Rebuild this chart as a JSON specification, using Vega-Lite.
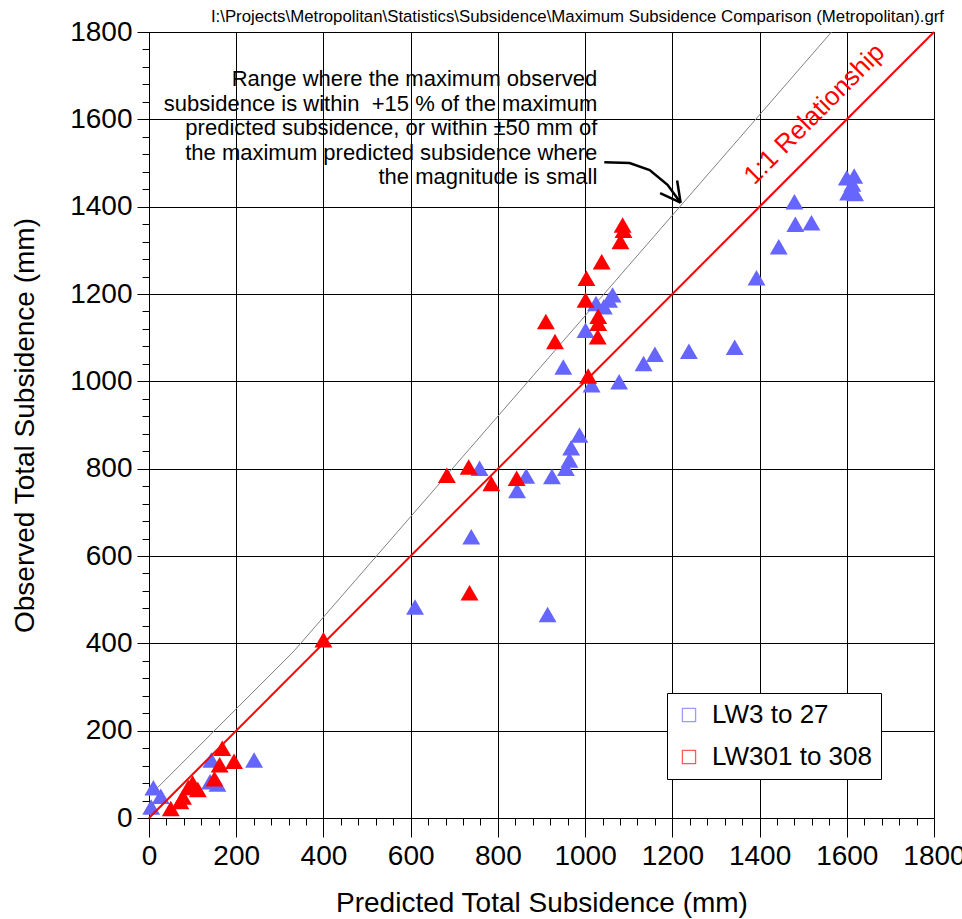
{
  "$schema": "https://vega.github.io/schema/vega-lite/v6.json",
  "width": 785,
  "height": 786,
  "autosize": {"type": "none"},
  "padding": {"left": 149, "top": 32, "right": 28, "bottom": 101},
  "background": "white",
  "config": {
    "font": "Liberation Sans",
    "view": {"stroke": "black", "strokeWidth": 1},
    "axis": {
      "labelFont": "Liberation Sans",
      "titleFont": "Liberation Sans",
      "labelColor": "black",
      "titleColor": "black",
      "labelFontSize": 28,
      "titleFontSize": 28,
      "titleFontWeight": "normal",
      "labelOverlap": false,
      "labelFlush": false,
      "gridColor": "black",
      "gridOpacity": 1,
      "gridWidth": 1,
      "domainColor": "black",
      "tickColor": "black",
      "tickWidth": 1
    }
  },
  "title": {
    "text": "I:\\Projects\\Metropolitan\\Statistics\\Subsidence\\Maximum Subsidence Comparison (Metropolitan).grf",
    "anchor": "end",
    "frame": "group",
    "fontSize": 16.8,
    "fontWeight": "normal",
    "font": "Liberation Sans",
    "color": "black",
    "offset": -8,
    "dx": 10
  },
  "datasets": {
    "points": [
      {"predicted": 5, "observed": 25, "series": "LW3 to 27"},
      {"predicted": 10, "observed": 69, "series": "LW3 to 27"},
      {"predicted": 27, "observed": 50, "series": "LW3 to 27"},
      {"predicted": 143, "observed": 133, "series": "LW3 to 27"},
      {"predicted": 140, "observed": 83, "series": "LW3 to 27"},
      {"predicted": 157, "observed": 78, "series": "LW3 to 27"},
      {"predicted": 241, "observed": 133, "series": "LW3 to 27"},
      {"predicted": 610, "observed": 483, "series": "LW3 to 27"},
      {"predicted": 739, "observed": 644, "series": "LW3 to 27"},
      {"predicted": 758, "observed": 801, "series": "LW3 to 27"},
      {"predicted": 844, "observed": 750, "series": "LW3 to 27"},
      {"predicted": 865, "observed": 783, "series": "LW3 to 27"},
      {"predicted": 914, "observed": 466, "series": "LW3 to 27"},
      {"predicted": 924, "observed": 782, "series": "LW3 to 27"},
      {"predicted": 956, "observed": 801, "series": "LW3 to 27"},
      {"predicted": 964, "observed": 820, "series": "LW3 to 27"},
      {"predicted": 968, "observed": 848, "series": "LW3 to 27"},
      {"predicted": 987, "observed": 877, "series": "LW3 to 27"},
      {"predicted": 950, "observed": 1033, "series": "LW3 to 27"},
      {"predicted": 1001, "observed": 1117, "series": "LW3 to 27"},
      {"predicted": 1015, "observed": 992, "series": "LW3 to 27"},
      {"predicted": 1025, "observed": 1178, "series": "LW3 to 27"},
      {"predicted": 1043, "observed": 1171, "series": "LW3 to 27"},
      {"predicted": 1055, "observed": 1186, "series": "LW3 to 27"},
      {"predicted": 1063, "observed": 1198, "series": "LW3 to 27"},
      {"predicted": 1078, "observed": 999, "series": "LW3 to 27"},
      {"predicted": 1134, "observed": 1041, "series": "LW3 to 27"},
      {"predicted": 1160, "observed": 1062, "series": "LW3 to 27"},
      {"predicted": 1238, "observed": 1069, "series": "LW3 to 27"},
      {"predicted": 1343, "observed": 1078, "series": "LW3 to 27"},
      {"predicted": 1393, "observed": 1237, "series": "LW3 to 27"},
      {"predicted": 1444, "observed": 1308, "series": "LW3 to 27"},
      {"predicted": 1480, "observed": 1411, "series": "LW3 to 27"},
      {"predicted": 1482, "observed": 1360, "series": "LW3 to 27"},
      {"predicted": 1519, "observed": 1363, "series": "LW3 to 27"},
      {"predicted": 1600, "observed": 1466, "series": "LW3 to 27"},
      {"predicted": 1617, "observed": 1470, "series": "LW3 to 27"},
      {"predicted": 1613, "observed": 1452, "series": "LW3 to 27"},
      {"predicted": 1609, "observed": 1441, "series": "LW3 to 27"},
      {"predicted": 1603, "observed": 1432, "series": "LW3 to 27"},
      {"predicted": 1619, "observed": 1430, "series": "LW3 to 27"},
      {"predicted": 50, "observed": 22, "series": "LW301 to 308"},
      {"predicted": 72, "observed": 38, "series": "LW301 to 308"},
      {"predicted": 78, "observed": 48, "series": "LW301 to 308"},
      {"predicted": 90, "observed": 70, "series": "LW301 to 308"},
      {"predicted": 100, "observed": 80, "series": "LW301 to 308"},
      {"predicted": 112, "observed": 65, "series": "LW301 to 308"},
      {"predicted": 150, "observed": 90, "series": "LW301 to 308"},
      {"predicted": 162, "observed": 122, "series": "LW301 to 308"},
      {"predicted": 168, "observed": 160, "series": "LW301 to 308"},
      {"predicted": 195, "observed": 130, "series": "LW301 to 308"},
      {"predicted": 400, "observed": 408, "series": "LW301 to 308"},
      {"predicted": 683, "observed": 785, "series": "LW301 to 308"},
      {"predicted": 733, "observed": 804, "series": "LW301 to 308"},
      {"predicted": 735, "observed": 516, "series": "LW301 to 308"},
      {"predicted": 785, "observed": 766, "series": "LW301 to 308"},
      {"predicted": 843, "observed": 778, "series": "LW301 to 308"},
      {"predicted": 910, "observed": 1137, "series": "LW301 to 308"},
      {"predicted": 931, "observed": 1091, "series": "LW301 to 308"},
      {"predicted": 1001, "observed": 1186, "series": "LW301 to 308"},
      {"predicted": 1003, "observed": 1236, "series": "LW301 to 308"},
      {"predicted": 1007, "observed": 1012, "series": "LW301 to 308"},
      {"predicted": 1029, "observed": 1102, "series": "LW301 to 308"},
      {"predicted": 1030, "observed": 1133, "series": "LW301 to 308"},
      {"predicted": 1030, "observed": 1149, "series": "LW301 to 308"},
      {"predicted": 1038, "observed": 1274, "series": "LW301 to 308"},
      {"predicted": 1081, "observed": 1320, "series": "LW301 to 308"},
      {"predicted": 1086, "observed": 1358, "series": "LW301 to 308"},
      {"predicted": 1088, "observed": 1346, "series": "LW301 to 308"}
    ],
    "envelope": [
      {"x": 0, "y": 50},
      {"x": 333.3, "y": 383.3},
      {"x": 1565, "y": 1800}
    ],
    "oneToOne": [
      {"x": 0, "y": 0},
      {"x": 1800, "y": 1800}
    ],
    "arrow": [
      {"part": "shaft", "o": 1, "x": 1044, "y": 1502},
      {"part": "shaft", "o": 2, "x": 1102, "y": 1500},
      {"part": "shaft", "o": 3, "x": 1148, "y": 1484},
      {"part": "shaft", "o": 4, "x": 1189, "y": 1450},
      {"part": "shaft", "o": 5, "x": 1219, "y": 1409},
      {"part": "arm1", "o": 1, "x": 1172, "y": 1431},
      {"part": "arm1", "o": 2, "x": 1219, "y": 1409},
      {"part": "arm2", "o": 1, "x": 1211, "y": 1460},
      {"part": "arm2", "o": 2, "x": 1219, "y": 1409}
    ],
    "notes": [
      {"x": 1028, "y": 1715, "text": "Range where the maximum observed\nsubsidence is within\u00a0 +15 % of the maximum\npredicted subsidence, or within ±50 mm of\nthe maximum predicted subsidence where\nthe magnitude is small"}
    ],
    "lineLabel": [
      {"x": 1526, "y": 1612, "text": "1:1 Relationship"}
    ]
  },
  "resolve": {"axis": {"x": "independent", "y": "independent"}},
  "layer": [
    {
      "layer": [
        {
          "data": {"name": "envelope"},
          "mark": {"type": "line", "color": "#808080", "strokeWidth": 1, "clip": true},
          "encoding": {
            "x": {"field": "x", "type": "quantitative", "scale": {"domain": [0, 1800], "nice": false, "zero": false},
              "axis": {"values": [0, 200, 400, 600, 800, 1000, 1200, 1400, 1600, 1800], "format": "d", "grid": true, "tickSize": 19, "labelPadding": 5, "title": "Predicted Total Subsidence (mm)", "titlePadding": 19, "orient": "bottom"}},
            "y": {"field": "y", "type": "quantitative", "scale": {"domain": [0, 1800], "nice": false, "zero": false},
              "axis": {"values": [0, 200, 400, 600, 800, 1000, 1200, 1400, 1600, 1800], "format": "d", "grid": true, "tickSize": 12, "labelPadding": 5, "title": "Observed Total Subsidence (mm)", "titlePadding": 30, "orient": "left"}}
          }
        },
        {
          "data": {"name": "points"},
          "mark": {"type": "point", "shape": "triangle-up", "filled": true, "opacity": 1, "size": 320, "strokeWidth": 0},
          "encoding": {
            "x": {"field": "predicted", "type": "quantitative"},
            "y": {"field": "observed", "type": "quantitative"},
            "color": {"field": "series", "type": "nominal",
              "scale": {"domain": ["LW3 to 27", "LW301 to 308"], "range": ["#6666ff", "#ff0000"]},
              "legend": {
                "title": null,
                "orient": "none",
                "legendX": 518,
                "legendY": 661,
                "direction": "vertical",
                "symbolType": "M-1,-1H1V1H-1Z M-0.82,-0.82V0.82H0.82V-0.82Z",
                "symbolSize": 210,
                "symbolStrokeWidth": 0,
                "symbolOpacity": 0.65,
                "labelFontSize": 26,
                "labelFont": "Liberation Sans",
                "labelColor": "black",
                "labelOffset": 10,
                "rowPadding": 16,
                "padding": 9,
                "strokeColor": "black",
                "fillColor": "white"
              }}
          }
        },
        {
          "data": {"name": "arrow"},
          "mark": {"type": "line", "color": "black", "strokeWidth": 2.5},
          "encoding": {
            "x": {"field": "x", "type": "quantitative"},
            "y": {"field": "y", "type": "quantitative"},
            "detail": {"field": "part", "type": "nominal"},
            "order": {"field": "o", "type": "quantitative"}
          }
        },
        {
          "data": {"name": "notes"},
          "mark": {"type": "text", "align": "right", "baseline": "top", "fontSize": 22, "lineHeight": 24.5, "lineBreak": "\n", "font": "Liberation Sans", "color": "black"},
          "encoding": {
            "x": {"field": "x", "type": "quantitative"},
            "y": {"field": "y", "type": "quantitative"},
            "text": {"field": "text", "type": "nominal"}
          }
        },
        {
          "data": {"name": "lineLabel"},
          "mark": {"type": "text", "align": "center", "baseline": "middle", "fontSize": 26, "angle": -45, "font": "Liberation Sans", "color": "#ff0000"},
          "encoding": {
            "x": {"field": "x", "type": "quantitative"},
            "y": {"field": "y", "type": "quantitative"},
            "text": {"field": "text", "type": "nominal"}
          }
        }
      ]
    },
    {
      "data": {"name": "oneToOne"},
      "mark": {"type": "line", "color": "#ff0000", "strokeWidth": 2},
      "encoding": {
        "x": {"field": "x", "type": "quantitative",
          "axis": {"orient": "bottom", "values": [0,40,80,120,160,200,240,280,320,360,400,440,480,520,560,600,640,680,720,760,800,840,880,920,960,1000,1040,1080,1120,1160,1200,1240,1280,1320,1360,1400,1440,1480,1520,1560,1600,1640,1680,1720,1760,1800], "labels": false, "grid": false, "domain": false, "tickSize": 7, "title": null}},
        "y": {"field": "y", "type": "quantitative",
          "axis": {"orient": "left", "values": [0,40,80,120,160,200,240,280,320,360,400,440,480,520,560,600,640,680,720,760,800,840,880,920,960,1000,1040,1080,1120,1160,1200,1240,1280,1320,1360,1400,1440,1480,1520,1560,1600,1640,1680,1720,1760,1800], "labels": false, "grid": false, "domain": false, "tickSize": 7, "title": null}}
      }
    }
  ]
}
